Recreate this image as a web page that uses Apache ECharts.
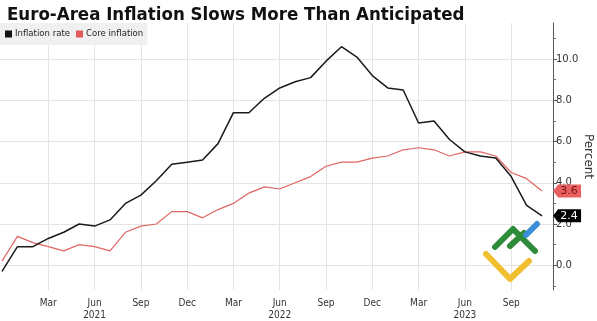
<!DOCTYPE html>
<html>
<head>
<meta charset="utf-8">
<script src="https://cdn.jsdelivr.net/npm/echarts@6/dist/echarts.min.js"></script>
<style>html,body{margin:0;padding:0;background:#fff;}#c{width:597px;height:321px;}</style>
</head>
<body>
<div id="c"></div>
<script>
// Months: Dec 2020 .. Nov 2023
const months = ['2020-12','2021-01','2021-02','2021-03','2021-04','2021-05','2021-06','2021-07','2021-08','2021-09','2021-10','2021-11','2021-12',
  '2022-01','2022-02','2022-03','2022-04','2022-05','2022-06','2022-07','2022-08','2022-09','2022-10','2022-11','2022-12',
  '2023-01','2023-02','2023-03','2023-04','2023-05','2023-06','2023-07','2023-08','2023-09','2023-10','2023-11'];
const inflationRate = [-0.3,0.9,0.9,1.3,1.6,2.0,1.9,2.2,3.0,3.4,4.1,4.9,5.0,5.1,5.9,7.4,7.4,8.1,8.6,8.9,9.1,9.9,10.6,10.1,9.2,8.6,8.5,6.9,7.0,6.1,5.5,5.3,5.2,4.3,2.9,2.4];
const coreInflation = [0.2,1.4,1.1,0.9,0.7,1.0,0.9,0.7,1.6,1.9,2.0,2.6,2.6,2.3,2.7,3.0,3.5,3.8,3.7,4.0,4.3,4.8,5.0,5.0,5.2,5.3,5.6,5.7,5.6,5.3,5.5,5.5,5.3,4.5,4.2,3.6];
// x tick positions (month index) and labels
const xTickValues = [3,6,9,12,15,18,21,24,27,30,33];
const xTickLabels = ['Mar','Jun\n2021','Sep','Dec','Mar','Jun\n2022','Sep','Dec','Mar','Jun\n2023','Sep'];
const yTickValues = [0,2,4,6,8,10];
const yMinorTickValues = [-1,1,3,5,7,9,11];

const toXY = arr => arr.map((v,i)=>[i,v]);
const lastIdx = months.length-1;
const FONT = 'DejaVu Sans Condensed';

const chart = echarts.init(document.getElementById('c'), null, {renderer:'canvas'});
const tagPath = 'path://M0,6.5 L5,0 L28,0 L28,13 L5,13 Z';

chart.setOption({
  animation:false,
  backgroundColor:'#fff',
  title:{text:'Euro-Area Inflation Slows More Than Anticipated',left:2,top:1,
    textStyle:{fontFamily:'DejaVu Sans Condensed',fontWeight:'bold',fontSize:18.5,color:'#111'}},
  legend:{left:0,top:23,itemWidth:7,itemHeight:7,itemGap:6,icon:'rect',
    backgroundColor:'#f0f0f0',padding:[6,4,6,5],
    textStyle:{fontFamily:FONT,fontSize:9.5,color:'#222',padding:[0,0,0,-2]},
    data:['Inflation rate','Core inflation']},
  grid:{left:0,right:44,top:23,bottom:31,outerBoundsMode:'none',containLabel:false},
  xAxis:{type:'value',min:-0.13,max:35.71,
    axisLine:{show:false},
    axisTick:{show:false,customValues:xTickValues},
    splitLine:{show:true,lineStyle:{color:'#e4e4e4',width:1}},
    axisLabel:{customValues:xTickValues,fontFamily:FONT,fontSize:10,color:'#333',margin:7,lineHeight:12,
      formatter:v=>{const k=xTickValues.indexOf(Math.round(v));return k>=0?xTickLabels[k]:'';}}
  },
  yAxis:[{type:'value',position:'right',min:-1.2,max:11.75,
    name:'Percent',nameLocation:'middle',nameRotate:-90,nameGap:29,nameMoveOverlap:false,
    nameTextStyle:{fontFamily:'DejaVu Sans',fontSize:12,color:'#333'},
    axisLine:{show:true,onZero:false,lineStyle:{color:'#555',width:1}},
    axisTick:{show:true,length:4,customValues:yTickValues,lineStyle:{color:'#555'}},
    splitLine:{show:true,lineStyle:{color:'#e4e4e4',width:1}},
    axisLabel:{customValues:yTickValues,fontFamily:'DejaVu Sans',fontSize:10,color:'#333',margin:3,formatter:v=>v.toFixed(1)}
  },{type:'value',position:'right',offset:0,min:-1.2,max:11.75,
    axisLine:{show:false,onZero:false},
    axisTick:{show:true,length:3,customValues:yMinorTickValues,lineStyle:{color:'#777'}},
    splitLine:{show:false},axisLabel:{show:false}
  }],
  series:[
    {name:'Core inflation',type:'line',data:toXY(coreInflation),showSymbol:false,symbol:'none',
      lineStyle:{color:'#e06565',width:1.2},itemStyle:{color:'#e05a5a'},z:2,
      markPoint:{symbol:tagPath,symbolSize:[28,13],symbolOffset:[25,0],silent:true,
        itemStyle:{color:'#e8605f'},
        label:{show:true,position:'inside',offset:[2,0],fontFamily:'DejaVu Sans',fontSize:11,color:'#7a1414',formatter:p=>p.value.toFixed(1)},
        data:[{coord:[lastIdx,coreInflation[lastIdx]],value:coreInflation[lastIdx]}]}
    },
    {name:'Inflation rate',type:'line',data:toXY(inflationRate),showSymbol:false,symbol:'none',
      lineStyle:{color:'#1a1a1a',width:1.5},itemStyle:{color:'#111'},z:3,
      markPoint:{symbol:tagPath,symbolSize:[28,13],symbolOffset:[25,0],silent:true,
        itemStyle:{color:'#000'},
        label:{show:true,position:'inside',offset:[2,0],fontFamily:'DejaVu Sans',fontSize:11,color:'#fff',formatter:p=>p.value.toFixed(1)},
        data:[{coord:[lastIdx,inflationRate[lastIdx]],value:inflationRate[lastIdx]}]}
    }
  ],
  graphic:[
    {type:'polyline',shape:{points:[[486,254],[510,279],[529,261]]},style:{stroke:'#f0c030',lineWidth:6,lineCap:'round',lineJoin:'round',fill:null},z:1},
    {type:'polyline',shape:{points:[[495,247],[513,229],[535,251]]},style:{stroke:'#2e8b3a',lineWidth:6,lineCap:'round',lineJoin:'round',fill:null},z:1},
    {type:'polyline',shape:{points:[[510,246],[524,233]]},style:{stroke:'#2e8b3a',lineWidth:6,lineCap:'round',fill:null},z:1},
    {type:'polyline',shape:{points:[[526,235],[537,224]]},style:{stroke:'#3a8fd8',lineWidth:6,lineCap:'round',fill:null},z:1}
  ]
});
</script>
</body>
</html>
